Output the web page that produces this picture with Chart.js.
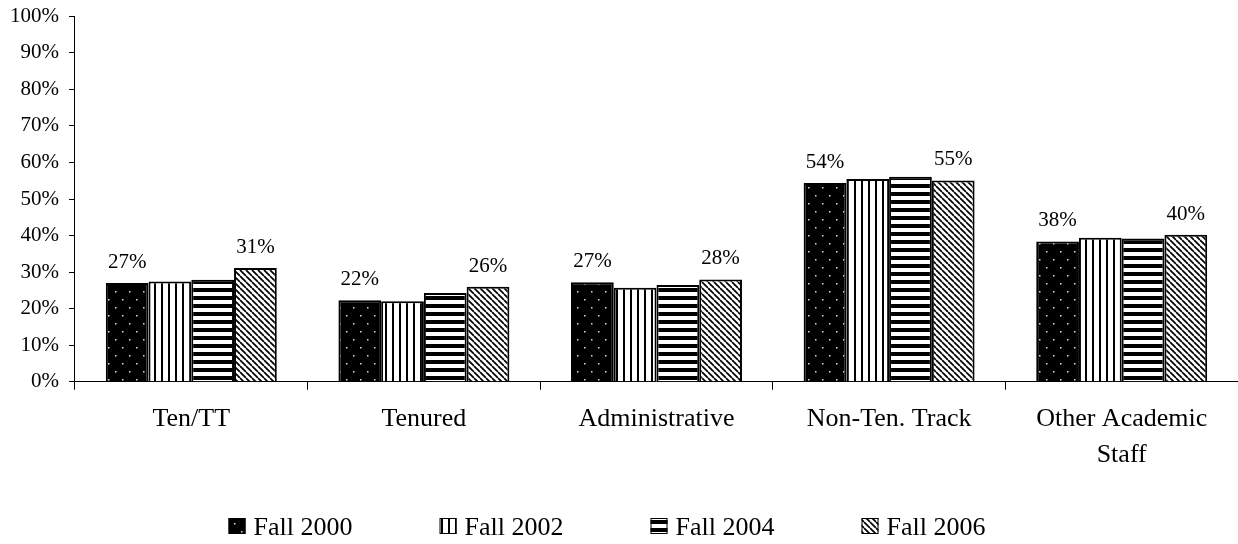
<!DOCTYPE html>
<html>
<head>
<meta charset="utf-8">
<script src="https://cdn.jsdelivr.net/npm/chart.js@4.4.0/dist/chart.umd.min.js"></script>
<style>
  html, body { margin: 0; padding: 0; background: #fff; }
  #wrap { width: 1238px; height: 544px; }
</style>
</head>
<body>
<div id="wrap"><canvas id="chartCanvas"></canvas></div>
<script>
const categories = ["Ten/TT", "Tenured", "Administrative", "Non-Ten. Track", ["Other Academic", "Staff"]];
const seriesNames = ["Fall 2000", "Fall 2002", "Fall 2004", "Fall 2006"];
const fall2000 = [27.0, 22.3, 27.2, 54.4, 38.4];
const fall2002 = [27.4, 22.0, 25.7, 55.5, 39.4];
const fall2004 = [27.9, 24.3, 26.5, 56.1, 39.2];
const fall2006 = [31.1, 26.0, 28.0, 55.1, 40.2];
const yTicks = [0, 10, 20, 30, 40, 50, 60, 70, 80, 90, 100];
const labelledSeries = [0, 3];

const FONT = "'Liberation Serif', 'Times New Roman', serif";

function makePattern(kind) {
    const c = document.createElement("canvas");
    const ctx = c.getContext("2d");
    if (kind === "dots") {
        c.width = 14; c.height = 16;
        ctx.fillStyle = "#000";
        ctx.fillRect(0, 0, 14, 16);
        ctx.fillStyle = "#ddd";
        [[3, 3], [10, 11]].forEach(p => ctx.fillRect(p[0], p[1], 1.5, 1.5));
    } else if (kind === "vert") {
        c.width = 7; c.height = 8;
        ctx.fillStyle = "#fff";
        ctx.fillRect(0, 0, 7, 8);
        ctx.fillStyle = "#000";
        ctx.fillRect(0, 0, 2, 8);
    } else if (kind === "horiz") {
        c.width = 8; c.height = 8;
        ctx.fillStyle = "#fff";
        ctx.fillRect(0, 0, 8, 8);
        ctx.fillStyle = "#000";
        ctx.fillRect(0, 0, 8, 4);
    } else {
        c.width = 6; c.height = 6;
        ctx.fillStyle = "#fff";
        ctx.fillRect(0, 0, 6, 6);
        ctx.strokeStyle = "#000";
        ctx.lineWidth = 1.7;
        for (let k = -6; k <= 12; k += 6) {
            ctx.beginPath();
            ctx.moveTo(k, 0);
            ctx.lineTo(k + 6, 6);
            ctx.stroke();
        }
    }
    return ctx.createPattern(c, "repeat");
}

const patterns = [makePattern("dots"), makePattern("vert"), makePattern("horiz"), makePattern("diag")];
const values = [fall2000, fall2002, fall2004, fall2006];

// percentage labels above the first and last series
const valueLabels = {
    id: "valueLabels",
    afterDatasetsDraw(chart) {
        const ctx = chart.ctx;
        ctx.save();
        ctx.font = "21px " + FONT;
        ctx.fillStyle = "#000";
        ctx.textAlign = "center";
        ctx.textBaseline = "alphabetic";
        labelledSeries.forEach(di => {
            chart.getDatasetMeta(di).data.forEach((bar, i) => {
                const v = chart.data.datasets[di].data[i];
                ctx.fillText(Math.round(v) + "%", bar.x, bar.y - 15);
            });
        });
        ctx.restore();
    }
};

// legend drawn by hand: wide gaps between items but a short row
const patternLegend = {
    id: "patternLegend",
    afterDraw(chart) {
        const ctx = chart.ctx;
        const gap = 211;
        ctx.save();
        ctx.font = "26px " + FONT;
        const itemW = 25 + ctx.measureText(seriesNames[3]).width;
        const total = gap * (seriesNames.length - 1) + itemW;
        let x = chart.width / 2 - 12 - total / 2;
        const yBase = chart.height - 9;
        seriesNames.forEach((name, i) => {
            ctx.fillStyle = patterns[i];
            ctx.fillRect(x, yBase - 17, 17, 16);
            ctx.strokeStyle = "#000";
            ctx.lineWidth = 1;
            ctx.strokeRect(x + 0.5, yBase - 16.5, 16, 15);
            ctx.fillStyle = "#000";
            ctx.textAlign = "left";
            ctx.textBaseline = "alphabetic";
            ctx.fillText(name, x + 25, yBase);
            x += gap;
        });
        ctx.restore();
    }
};

new Chart(document.getElementById("chartCanvas"), {
    type: "bar",
    data: {
        labels: categories,
        datasets: seriesNames.map((name, i) => ({
            label: name,
            data: values[i],
            backgroundColor: patterns[i],
            borderColor: "#000",
            borderWidth: 2,
            barPercentage: 1,
            categoryPercentage: 0.735
        }))
    },
    options: {
        responsive: true,
        maintainAspectRatio: false,
        animation: false,
        layout: { padding: { top: 0, right: 0, left: 0, bottom: 59 } },
        scales: {
            x: {
                offset: true,
                grid: { display: true, offset: true, drawOnChartArea: false, tickLength: 8, color: "#000" },
                border: { color: "#000", width: 1 },
                ticks: { color: "#000", font: { family: FONT, size: 26, lineHeight: 1.37 }, padding: 12, maxRotation: 0 }
            },
            y: {
                min: 0,
                max: 100,
                afterBuildTicks(axis) { axis.ticks = yTicks.map(v => ({ value: v })); },
                grid: { display: true, drawOnChartArea: false, tickLength: 6, color: "#000" },
                border: { color: "#000", width: 1 },
                ticks: {
                    color: "#000",
                    font: { family: FONT, size: 21, lineHeight: 0.6 },
                    padding: 10,
                    callback: v => v + "%"
                }
            }
        },
        plugins: {
            tooltip: { enabled: false },
            legend: { display: false }
        }
    },
    plugins: [valueLabels, patternLegend]
});
</script>
</body>
</html>
